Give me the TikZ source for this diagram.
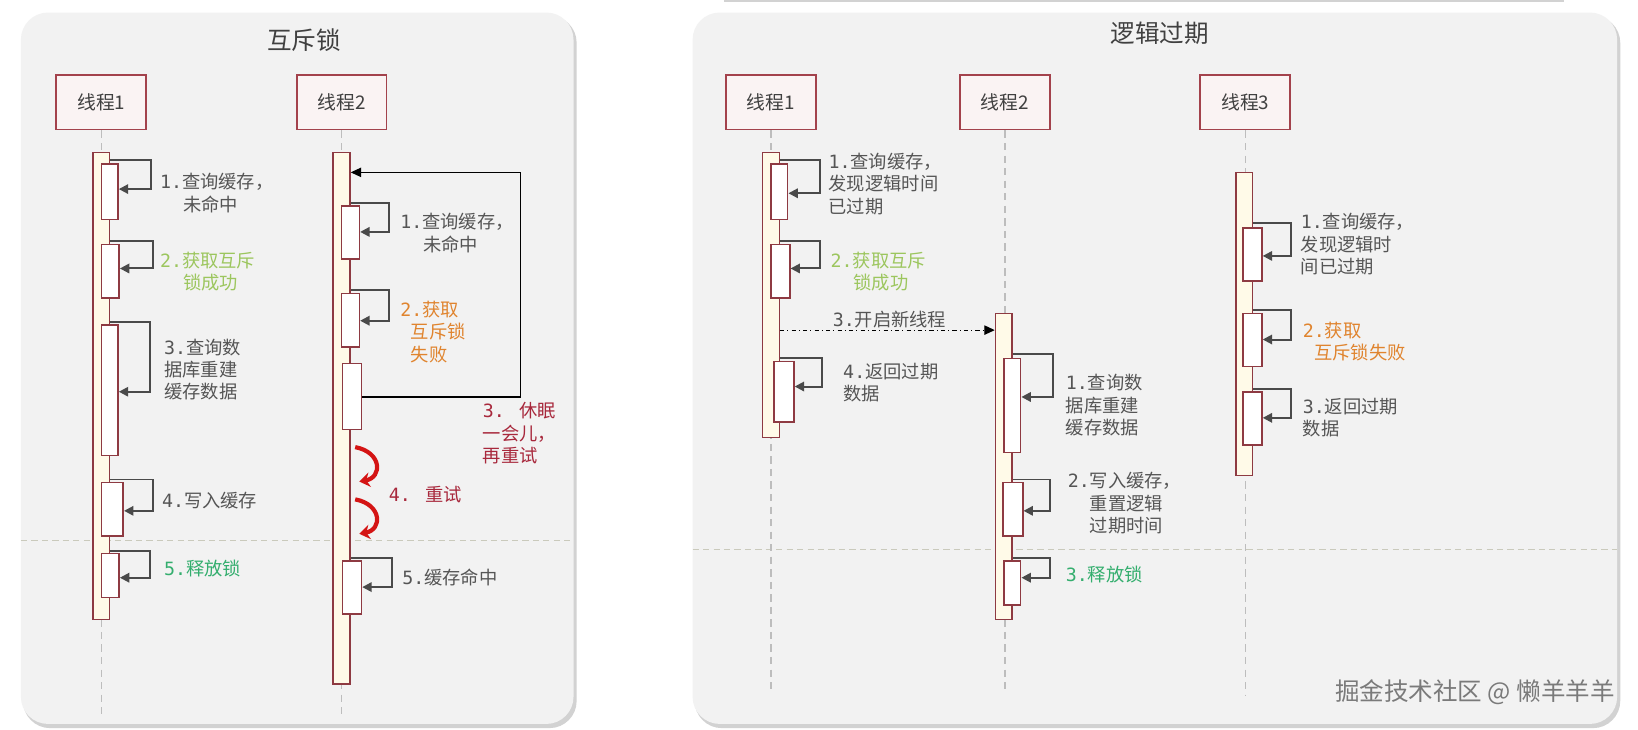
\documentclass[tikz,border=0pt]{standalone}
\usepackage{fontspec}
\setmainfont{Noto Sans CJK SC}
\newfontfamily\monof{DejaVu Sans Mono}
\usetikzlibrary{arrows.meta,fit,calc}
\definecolor{panelc}{HTML}{F2F2F2}
\definecolor{shadowc}{HTML}{D2D2D2}
\definecolor{hdrc}{HTML}{A3424C}
\definecolor{hdrfill}{HTML}{FAF3F3}
\definecolor{barc}{HTML}{8E3A42}
\definecolor{barfill}{HTML}{FFFAE8}
\definecolor{lifec}{HTML}{BDBDBD}
\definecolor{loopc}{HTML}{4A4A4A}
\definecolor{labelc}{HTML}{555555}
\definecolor{txtc}{HTML}{404040}
\definecolor{lgreen}{HTML}{9CC65E}
\definecolor{dgreen}{HTML}{34AE6E}
\definecolor{orangec}{HTML}{E0842E}
\definecolor{dredc}{HTML}{A8283C}
\definecolor{redarr}{HTML}{D41414}
\definecolor{sepc}{HTML}{CACABC}
\definecolor{wmc}{HTML}{7A7A7A}
\begin{document}
\begin{tikzpicture}[x=1pt,y=-1pt,
 thbox/.style={draw=hdrc, line width=1.8pt, fill=hdrfill, minimum width=86pt, minimum height=52pt, inner sep=0pt, font=\fontsize{18}{20}\selectfont, text=txtc},
 lifeline/.style={draw=lifec, line width=1.3pt, dash pattern=on 7pt off 5pt},
 outbar/.style={draw=barc, line width=1.5pt, fill=barfill, inner sep=0pt},
 inbox/.style={draw=barc, line width=1.5pt, fill=white, inner sep=0pt},
 selfloop/.style={draw=loopc, line width=1.9pt, -{Triangle[length=9pt,width=9pt]}},
 lbl/.style={anchor=north west, inner sep=0pt, align=left, text=labelc, font=\fontsize{17.5}{21.5}\selectfont},
 ttl/.style={text=txtc, font=\fontsize{23.5}{26}\selectfont, inner sep=0pt},
 sepline/.style={draw=sepc, line width=1pt, dash pattern=on 6pt off 4pt},
 retry/.style={draw=redarr, line width=4pt, -{Stealth[length=10pt,width=14pt]}}
]
\useasboundingbox (0,0) rectangle (1568,698);
\fill[white] (0,0) rectangle (1568,698);
\draw[shadowc, line width=2.5pt] (693,1) -- (1497,1);
% panels
\fill[shadowc, rounded corners=26pt] (22,15) rectangle (552,697);
\fill[panelc, rounded corners=26pt] (20,12) rectangle (549,693);
\fill[shadowc, rounded corners=26pt] (665,15) rectangle (1551,697);
\fill[panelc, rounded corners=26pt] (663,12) rectangle (1548,693);
% titles
\node[ttl] (tl) at (291,38) {互斥锁};
\node[ttl] (tr) at (1110,32) {逻辑过期};
% separators
\coordinate (sl1) at (20,517); \coordinate (sl2) at (549,517);
\draw[sepline] (sl1) -- (sl2);
\coordinate (sr1) at (663,526); \coordinate (sr2) at (1548,526);
\draw[sepline] (sr1) -- (sr2);
% headers
\node[thbox] (hL1) at (97,98) {线程1};
\node[thbox] (hL2) at (327,98) {线程2};
\node[thbox] (hR1) at (738,98) {线程1};
\node[thbox] (hR2) at (962,98) {线程2};
\node[thbox] (hR3) at (1192,98) {线程3};
% lifelines
\coordinate (eL1) at (97,688); \coordinate (eL2) at (327,688);
\coordinate (eR1) at (738,662); \coordinate (eR2) at (962,662); \coordinate (eR3) at (1192,666);
\draw[lifeline] (hL1.south) -- (eL1);
\draw[lifeline] (hL2.south) -- (eL2);
\draw[lifeline] (hR1.south) -- (eR1);
\draw[lifeline] (hR2.south) -- (eR2);
\draw[lifeline] (hR3.south) -- (eR3);
% ===== left panel thread 1
\node[outbar, fit={(89,146) (105,593)}] (L1) {};
\node[inbox, fit={(97,157) (113,210)}] (L1a) {};
\node[inbox, fit={(97,234) (114,285)}] (L1b) {};
\node[inbox, fit={(97,311) (113,436)}] (L1c) {};
\node[inbox, fit={(97,462) (118,513)}] (L1d) {};
\node[inbox, fit={(97,530) (114,572)}] (L1e) {};
\draw[selfloop] (L1.east |- 0,153) -- (145,153) -- (145,181) -- (L1a.east |- 0,181);
\draw[selfloop] (L1.east |- 0,231) -- (146,231) -- (146,257) -- (L1b.east |- 0,257);
\draw[selfloop] (L1.east |- 0,308) -- (144,308) -- (144,375) -- (L1c.east |- 0,375);
\draw[selfloop] (L1.east |- 0,459) -- (146,459) -- (146,489) -- (L1d.east |- 0,489);
\draw[selfloop] (L1.east |- 0,527) -- (144,527) -- (144,553) -- (L1e.east |- 0,553);
\node[lbl] (tL1a) at (153,166) {{\monof 1.}查询缓存，\\\hspace*{22pt}未命中};
\node[lbl, text=lgreen] (tL1b) at (153,241) {{\monof 2.}获取互斥\\\hspace*{22pt}锁成功};
\node[lbl] (tL1c) at (157,324) {{\monof 3.}查询数\\据库重建\\缓存数据};
\node[lbl] (tL1d) at (155,471) {{\monof 4.}写入缓存};
\node[lbl, text=dgreen] (tL1e) at (157,536) {{\monof 5.}释放锁};
% ===== left panel thread 2
\node[outbar, fit={(319,146) (335,655)}] (L2) {};
\node[inbox, fit={(327,197) (344,248)}] (L2a) {};
\node[inbox, fit={(327,281) (344,332)}] (L2b) {};
\node[inbox, fit={(328,348) (346,411)}] (L2c) {};
\node[inbox, fit={(328,537) (346,588)}] (L2d) {};
\draw[selfloop] (L2.east |- 0,194) -- (372,194) -- (372,222) -- (L2a.east |- 0,222);
\draw[selfloop] (L2.east |- 0,278) -- (372,278) -- (372,307) -- (L2b.east |- 0,307);
\draw[selfloop] (L2.east |- 0,534) -- (375,534) -- (375,562) -- (L2d.east |- 0,562);
\draw[black, line width=1.2pt, -{Triangle[length=10pt,width=9pt]}] (L2c.east |- 0,380) -- (498,380) -- (498,165) -- (L2.east |- 0,165);
\draw[retry] (340,428) .. controls (366,433) and (366,457) .. (344,461);
\draw[retry] (340,478) .. controls (366,483) and (366,507) .. (344,511);
\node[lbl] (tL2a) at (383,204) {{\monof 1.}查询缓存，\\\hspace*{22pt}未命中};
\node[lbl, text=orangec] (tL2b) at (383,288) {{\monof 2.}获取\\\hspace*{10pt}互斥锁\\\hspace*{10pt}失败};
\node[lbl, text=dredc] (tL2c) at (462,385) {{\monof 3. }休眠\\一会儿，\\再重试};
\node[lbl, text=dredc] (tL2r) at (372,465) {{\monof 4. }重试};
\node[lbl] (tL2d) at (385,544) {{\monof 5.}缓存命中};
% ===== right panel thread 1
\node[outbar, fit={(730,146) (746,419)}] (R1) {};
\node[inbox, fit={(738,157) (754,210)}] (R1a) {};
\node[inbox, fit={(738,234) (756,285)}] (R1b) {};
\node[inbox, fit={(741,346) (760,404)}] (R1c) {};
\draw[selfloop] (R1.east |- 0,153) -- (785,153) -- (785,185) -- (R1a.east |- 0,185);
\draw[selfloop] (R1.east |- 0,231) -- (785,231) -- (785,257) -- (R1b.east |- 0,257);
\draw[selfloop] (R1.east |- 0,343) -- (787,343) -- (787,370) -- (R1c.east |- 0,370);
\node[lbl] (tR1a) at (793,146) {{\monof 1.}查询缓存，\\发现逻辑时间\\已过期};
\node[lbl, text=lgreen] (tR1b) at (795,241) {{\monof 2.}获取互斥\\\hspace*{22pt}锁成功};
\node[lbl] (tR1m) at (797,298) {{\monof 3.}开启新线程};
\node[lbl] (tR1c) at (807,347) {{\monof 4.}返回过期\\数据};
% ===== right panel thread 2
\node[outbar, fit={(953,300) (969,593)}] (R2) {};
\node[inbox, fit={(961,343) (977,433)}] (R2a) {};
\node[inbox, fit={(960,462) (979,513)}] (R2b) {};
\node[inbox, fit={(961,537) (977,579)}] (R2c) {};
\draw[selfloop] (R2.east |- 0,339) -- (1008,339) -- (1008,380) -- (R2a.east |- 0,380);
\draw[selfloop] (R2.east |- 0,459) -- (1005,459) -- (1005,489) -- (R2b.east |- 0,489);
\draw[selfloop] (R2.east |- 0,534) -- (1005,534) -- (1005,553) -- (R2c.east |- 0,553);
\node[lbl] (tR2a) at (1020,358) {{\monof 1.}查询数\\据库重建\\缓存数据};
\node[lbl] (tR2b) at (1022,452) {{\monof 2.}写入缓存，\\\hspace*{21pt}重置逻辑\\\hspace*{21pt}过期时间};
\node[lbl, text=dgreen] (tR2c) at (1020,542) {{\monof 3.}释放锁};
% message arrow
\draw[black, line width=1.1pt, dash pattern=on 4pt off 3pt on 1pt off 3pt, -{Triangle[length=10pt,width=9pt]}] (R1.east |- 0,316) -- (R2.west |- 0,316);
% ===== right panel thread 3
\node[outbar, fit={(1183,165) (1199,455)}] (R3) {};
\node[inbox, fit={(1190,218) (1208,269)}] (R3a) {};
\node[inbox, fit={(1190,300) (1208,351)}] (R3b) {};
\node[inbox, fit={(1190,375) (1208,426)}] (R3c) {};
\draw[selfloop] (R3.east |- 0,213) -- (1236,213) -- (1236,245) -- (R3a.east |- 0,245);
\draw[selfloop] (R3.east |- 0,297) -- (1236,297) -- (1236,325) -- (R3b.east |- 0,325);
\draw[selfloop] (R3.east |- 0,372) -- (1236,372) -- (1236,400) -- (R3c.east |- 0,400);
\node[lbl] (tR3a) at (1245,204) {{\monof 1.}查询缓存，\\发现逻辑时\\间已过期};
\node[lbl, text=orangec] (tR3b) at (1247,308) {{\monof 2.}获取\\\hspace*{11pt}互斥锁失败};
\node[lbl] (tR3c) at (1247,381) {{\monof 3.}返回过期\\数据};
% watermark
\node[text=wmc, font=\fontsize{23.5}{26}\selectfont, anchor=east, inner sep=0pt] (wm) at (1546,663) {掘金技术社区 @ 懒羊羊羊};
\end{tikzpicture}
\end{document}
